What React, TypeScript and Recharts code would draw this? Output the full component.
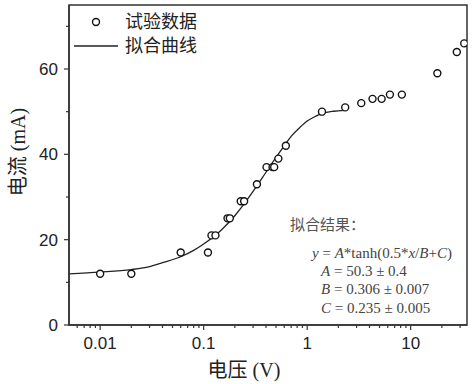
import {
  ComposedChart,
  Line,
  ReferenceArea,
  Scatter,
  XAxis,
  YAxis,
} from "recharts";

// measured points (V, mA)
const VOLTAGE = [
  0.01, 0.02, 0.06, 0.11, 0.119, 0.13, 0.17, 0.179, 0.228, 0.246, 0.327, 0.405,
  0.463, 0.48, 0.527, 0.622, 1.39, 2.33, 3.33, 4.28, 5.24, 6.3, 8.22, 18.1, 27.9,
  32.9,
];
const CURRENT = [
  12, 12, 17, 17, 21, 21, 25, 25, 29, 29, 33, 37, 37, 37, 39, 42, 50, 51, 52, 53,
  53, 54, 54, 59, 64, 66,
];

// fitted curve
const FIT_VOLTAGE = [
  0.005, 0.01, 0.02, 0.03, 0.04, 0.06, 0.08, 0.1, 0.15, 0.2, 0.25, 0.3, 0.4, 0.5,
  0.6, 0.7, 0.85, 1, 1.2, 1.4, 1.8, 2.3,
];
const FIT_CURRENT = [
  12, 12.4, 13, 13.7, 14.6, 16, 17.5, 19, 22.4, 25.6, 28.6, 31.3, 35.8, 39.3, 42,
  44.2, 46.3, 47.8, 48.9, 49.6, 50.1, 50.3,
];

const X_MAJOR = [0.01, 0.1, 1, 10];
const X_MINOR = [
  0.006, 0.007, 0.008, 0.009, 0.02, 0.03, 0.04, 0.05, 0.06, 0.07, 0.08, 0.09, 0.2,
  0.3, 0.4, 0.5, 0.6, 0.7, 0.8, 0.9, 2, 3, 4, 5, 6, 7, 8, 9, 20, 30,
];
const Y_MAJOR = [0, 20, 40, 60];
const Y_MINOR = [10, 30, 50, 70];

const points = VOLTAGE.map((v, i) => ({ x: v, y: CURRENT[i] }));
const fit = FIT_VOLTAGE.map((v, i) => ({ x: v, y: FIT_CURRENT[i] }));

const AXIS = "#333";
const TICK_FONT = "'Liberation Sans', Arial, sans-serif";
const CJK_FONT = "'Liberation Serif', 'Noto Sans CJK SC', serif";

function XTick({ x, y, payload }: any) {
  const major = X_MAJOR.includes(payload.value);
  return (
    <g>
      <line x1={x} x2={x} y1={y} y2={y + (major ? 5 : 3)} stroke={AXIS} strokeWidth={1.2} />
      {major && (
        <text x={x} y={y + 24} textAnchor="middle" fontSize={17} fill="#222" fontFamily={TICK_FONT}>
          {payload.value}
        </text>
      )}
    </g>
  );
}

function YTick({ x, y, payload }: any) {
  const major = Y_MAJOR.includes(payload.value);
  return (
    <g>
      <line x1={x} x2={x - (major ? 5 : 3)} y1={y} y2={y} stroke={AXIS} strokeWidth={1.2} />
      {major && (
        <text x={x - 11} y={y + 6} textAnchor="end" fontSize={17} fill="#222" fontFamily={TICK_FONT}>
          {payload.value}
        </text>
      )}
    </g>
  );
}

function XTitle() {
  return (
    <text x={244} y={377} textAnchor="middle" fontSize={20} fill="#222" fontFamily={CJK_FONT}>
      电压 (V)
    </text>
  );
}

function YTitle() {
  return (
    <text
      x={18}
      y={152}
      textAnchor="middle"
      dominantBaseline="central"
      fontSize={20}
      fill="#222"
      fontFamily={CJK_FONT}
      transform="rotate(-90 18 152)"
    >
      电流 (mA)
    </text>
  );
}

function Dot(props: any) {
  return <circle cx={props.cx} cy={props.cy} r={3.5} fill="#fff" stroke="#111" strokeWidth={1.4} />;
}

export default function App() {
  return (
    <div style={{ position: "absolute", left: 0, top: 0, width: 474, height: 384, background: "#fff" }}>
      <ComposedChart width={474} height={384} margin={{ top: 5, right: 7, bottom: 0, left: 0 }}>
        <XAxis
          dataKey="x"
          type="number"
          scale="log"
          domain={[0.005, 35]}
          allowDataOverflow
          ticks={[...X_MAJOR, ...X_MINOR].sort((a, b) => a - b)}
          interval={0}
          tick={<XTick />}
          tickLine={false}
          tickSize={0}
          tickMargin={0}
          height={59}
          stroke={AXIS}
          strokeWidth={1.5}
          label={<XTitle />}
        />
        <YAxis
          dataKey="y"
          type="number"
          domain={[0, 75]}
          allowDataOverflow
          ticks={[...Y_MAJOR, ...Y_MINOR].sort((a, b) => a - b)}
          interval={0}
          tick={<YTick />}
          tickLine={false}
          tickSize={0}
          tickMargin={0}
          width={69}
          stroke={AXIS}
          strokeWidth={1.5}
          label={<YTitle />}
        />
        <ReferenceArea
          x1={0.005}
          x2={35}
          y1={0}
          y2={75}
          fill="none"
          fillOpacity={0}
          stroke={AXIS}
          strokeWidth={1.5}
          ifOverflow="visible"
        />
        <Line
          data={fit}
          dataKey="y"
          type="monotone"
          stroke="#222"
          strokeWidth={1.3}
          dot={false}
          activeDot={false}
          isAnimationActive={false}
        />
        <Scatter data={points} dataKey="y" shape={<Dot />} isAnimationActive={false} />
      </ComposedChart>

      <svg
        width={474}
        height={384}
        style={{ position: "absolute", left: 0, top: 0, pointerEvents: "none" }}
      >
        {/* legend */}
        <circle cx={96} cy={22} r={3.5} fill="#fff" stroke="#111" strokeWidth={1.4} />
        <text x={125} y={22} dominantBaseline="central" fontSize={18} fill="#222" fontFamily={CJK_FONT}>
          试验数据
        </text>
        <line x1={74} x2={118} y1={46} y2={46} stroke="#222" strokeWidth={1.3} />
        <text x={125} y={46} dominantBaseline="central" fontSize={18} fill="#222" fontFamily={CJK_FONT}>
          拟合曲线
        </text>

        {/* fit result */}
        <text x={290} y={225} dominantBaseline="central" fontSize={15} fill="#555" fontFamily={CJK_FONT}>
          拟合结果：
        </text>
        <g fontFamily="'Liberation Serif', 'Times New Roman', serif" fontSize={15} fill="#444">
          <text x={312} y={258}>
            <tspan fontStyle="italic">y</tspan> = <tspan fontStyle="italic">A</tspan>*tanh(0.5*
            <tspan fontStyle="italic">x</tspan>/<tspan fontStyle="italic">B</tspan>+
            <tspan fontStyle="italic">C</tspan>)
          </text>
          <text x={321} y={276}>
            <tspan fontStyle="italic">A</tspan> = 50.3 ± 0.4
          </text>
          <text x={321} y={294}>
            <tspan fontStyle="italic">B</tspan> = 0.306 ± 0.007
          </text>
          <text x={321} y={313}>
            <tspan fontStyle="italic">C</tspan> = 0.235 ± 0.005
          </text>
        </g>
      </svg>
    </div>
  );
}
